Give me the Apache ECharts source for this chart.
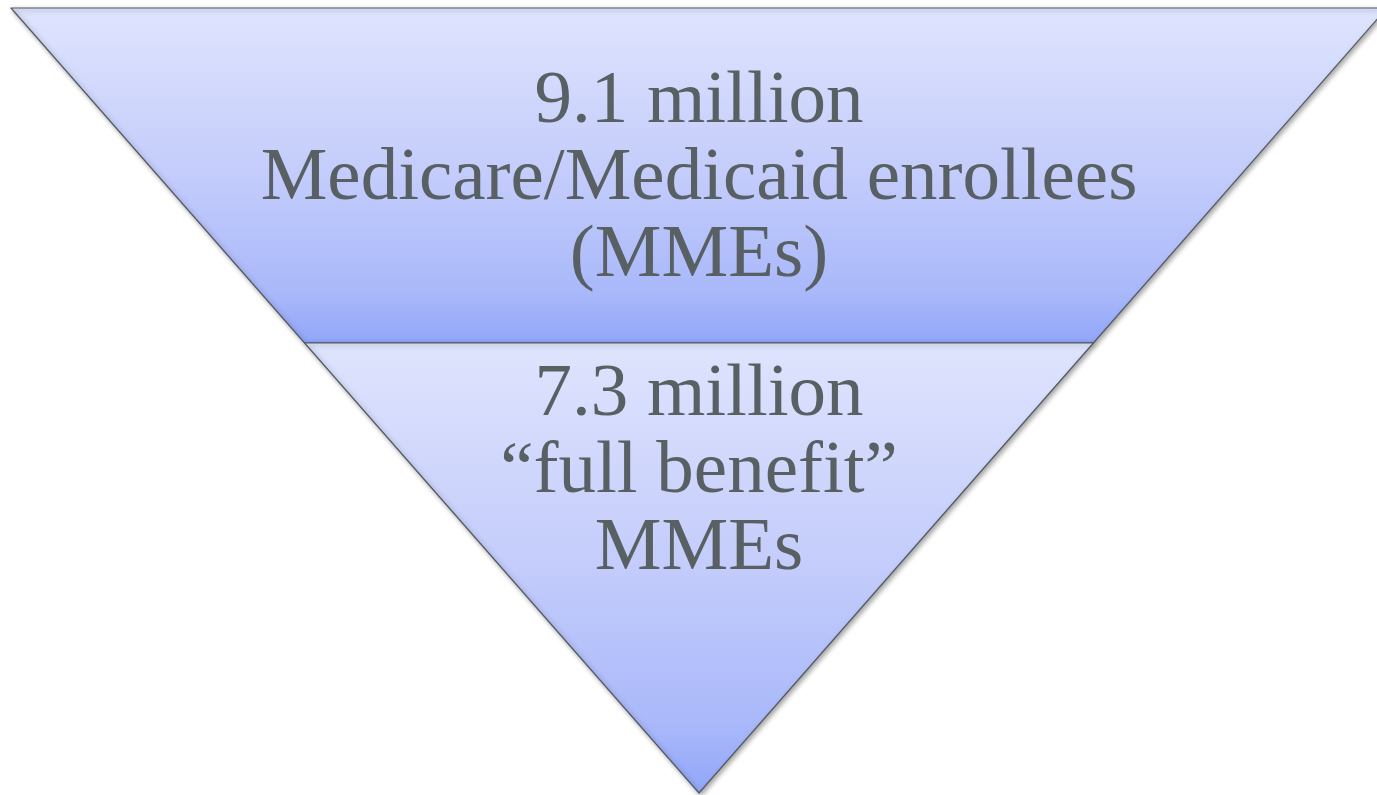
<!DOCTYPE html>
<html>
<head>
<meta charset="utf-8">
<title>Medicare/Medicaid enrollees</title>
<script src="https://cdn.jsdelivr.net/npm/echarts@6/dist/echarts.min.js"></script>
<style>
  html, body { margin: 0; padding: 0; background: #ffffff; }
  #chart { width: 1377px; height: 795px; }
</style>
</head>
<body>
<div id="chart"></div>
<script>
// Enrollee groups, widest first (millions)
const stages = ['Medicare/Medicaid enrollees', '"full benefit" MMEs'];
const enrollees = [9.1, 7.3];
const labelLines = [
  ['9.1 million', 'Medicare/Medicaid enrollees', '(MMEs)'],
  ['7.3 million', '\u201cfull benefit\u201d', 'MMEs']
];

// Funnel geometry (pixels)
const funnelTop = 8;
const segHeights = [335, 450];
const totalHeight = segHeights[0] + segHeights[1];

// Vertical nudge of each band's label from the band centre (pixels)
const labelShift = [4, -96];

// Choose the value floor so both sides of the funnel stay one straight line
// down to the apex: the second band's top width equals its share of height.
const widthShare = segHeights[1] / totalHeight;
const valueFloor = (enrollees[1] - enrollees[0] * widthShare) / (1 - widthShare);

function bandGradient() {
  return new echarts.graphic.LinearGradient(0, 0, 0, 1, [
    { offset: 0, color: '#dfe4fd' },
    { offset: 0.5, color: '#c3ccfb' },
    { offset: 0.85, color: '#a9b8fa' },
    { offset: 1, color: '#91a6f9' }
  ]);
}

const chart = echarts.init(document.getElementById('chart'), null, { renderer: 'canvas' });

chart.setOption({
  animation: false,
  backgroundColor: '#ffffff',
  series: [{
    type: 'funnel',
    left: 11,
    top: funnelTop,
    width: 1376,
    height: totalHeight,
    min: valueFloor,
    max: enrollees[0],
    minSize: '0%',
    maxSize: '100%',
    sort: 'none',
    gap: 0,
    silent: true,
    labelLayout: function (params) {
      return { dy: labelShift[params.dataIndex] };
    },
    data: stages.map((name, i) => ({
      name: name,
      value: enrollees[i],
      itemStyle: {
        height: segHeights[i],
        color: bandGradient(),
        borderColor: '#535a63',
        borderWidth: 1.2,
        shadowColor: 'rgba(0,0,0,0.35)',
        shadowBlur: 5,
        shadowOffsetX: 2,
        shadowOffsetY: 2
      },
      label: {
        show: true,
        position: 'inside',
        formatter: labelLines[i].join('\n'),
        fontFamily: '"Liberation Serif", "Times New Roman", serif',
        fontSize: 75,
        lineHeight: 77,
        color: '#586064',
        align: 'center',
        textBorderWidth: 0
      }
    })),
    labelLine: { show: false }
  }]
});
</script>
</body>
</html>
